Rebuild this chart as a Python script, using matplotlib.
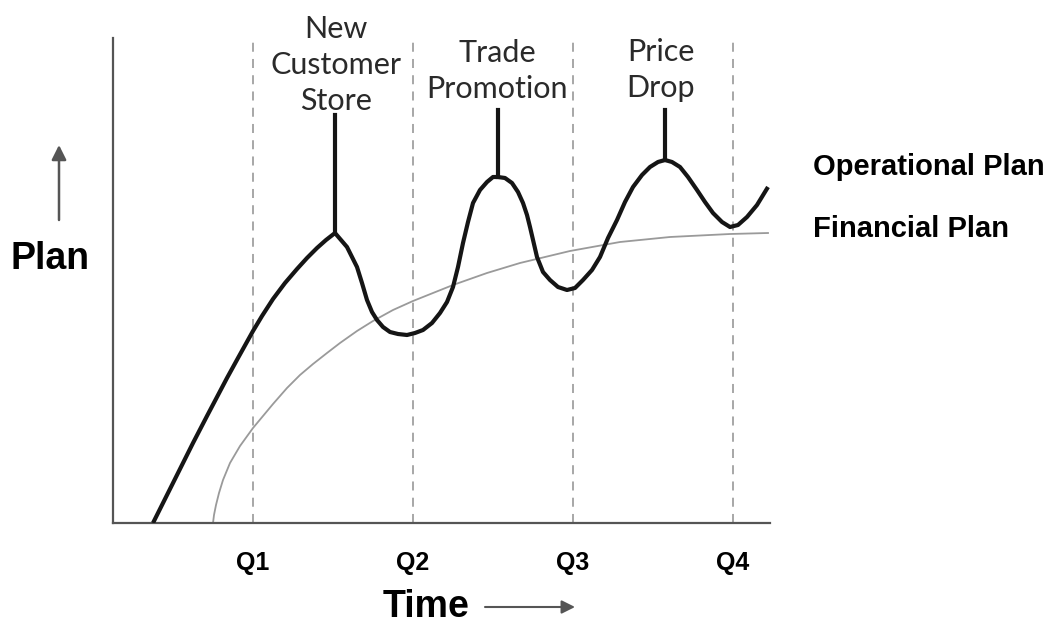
import numpy as np
import matplotlib
matplotlib.use('Agg')
import matplotlib.pyplot as plt

W, H = 1056, 623

# time axis: 160 units per quarter
quarters = [160, 320, 480, 640]
quarter_labels = ['Q1', 'Q2', 'Q3', 'Q4']

# operational plan
op_t = [60, 73, 87, 100, 114, 124, 134, 145, 160, 169, 180, 192, 204, 214,
        224, 233, 242, 254, 259, 264, 269, 274, 279, 284, 290, 297, 305,
        314, 322, 330, 339, 347, 354, 360, 365, 370, 375, 380, 387, 394,
        400, 405, 412, 419, 425, 430, 434, 437, 444, 450, 457, 465, 474,
        482, 490, 499, 507, 515, 524, 532, 540, 549, 557, 565, 572, 579,
        587, 595, 604, 612, 620, 629, 637, 645, 654, 664, 675]
op_v = [0, 26, 54, 80, 107, 126, 145, 165, 192, 207, 224, 240, 254, 265,
        275, 283, 290, 276, 266, 256, 240, 223, 211, 203, 196, 191, 189,
        188, 190, 193, 200, 210, 221, 236, 256, 280, 301, 320, 333, 341,
        346, 346, 345, 340, 331, 320, 308, 296, 266, 251, 243, 236, 233,
        235, 243, 253, 266, 285, 303, 321, 336, 348, 356, 361, 363, 361,
        356, 346, 333, 321, 310, 301, 296, 298, 306, 318, 336]

# financial plan
fin_t = [120, 121, 123, 126, 130, 137, 147, 160, 180, 194, 207, 220, 234,
         247, 264, 280, 300, 320, 360, 394, 427, 477, 527, 577, 637, 675]
fin_v = [0, 8, 18, 30, 43, 60, 77, 95, 119, 135, 148, 159, 170,
         180, 192, 202, 213, 222, 238, 250, 260, 272, 281, 286, 289, 290]

# events: time, level at peak, top of stem, label
ev_t = [242, 405, 572]
ev_v = [290, 346, 363]
ev_top = [408, 413, 413]
ev_label_x = [243, 404, 568]
ev_label_y = [413, 425, 426]
ev_labels = ['New\nCustomer\nStore', 'Trade\nPromotion', 'Price\nDrop']


def fx(px):
    return px / W


def fy(py):
    return 1 - py / H


fig = plt.figure(figsize=(W / 100, H / 100), dpi=100)
ax = fig.add_axes([fx(113), fy(523), fx(770) - fx(113), fy(38) - fy(523)])
ax.set_xlim(20, 677)
ax.set_ylim(0, 485)

for q in quarters:
    ax.axvline(q, color='#a0a0a0', lw=1.3, dashes=(5, 4), zorder=1)

ax.plot(fin_t, fin_v, color='#9a9a9a', lw=1.3, zorder=2,
        solid_joinstyle='round')
ax.plot(op_t, op_v, color='#151515', lw=3.0, zorder=3,
        solid_joinstyle='round', solid_capstyle='butt')

for t, v, top in zip(ev_t, ev_v, ev_top):
    ax.plot([t, t], [v, top], color='#151515', lw=3.0, zorder=3)
for x, y, lab in zip(ev_label_x, ev_label_y, ev_labels):
    # baseline of the last line sits at y
    ax.text(x, y, lab, ha='center', va='baseline', fontsize=22,
            family='Lato', color='#2a2a2a', linespacing=1.34, clip_on=False)

for s in ['top', 'right']:
    ax.spines[s].set_visible(False)
for s in ['left', 'bottom']:
    ax.spines[s].set_color('#555555')
    ax.spines[s].set_linewidth(1.6)

ax.set_yticks([])
ax.set_xticks(quarters)
ax.set_xticklabels(quarter_labels, fontsize=18, fontweight='bold',
                   family='Liberation Sans')
ax.tick_params(axis='x', length=0, pad=20)

bold = dict(family='Liberation Sans', fontweight='bold', color='black')
fig.text(fx(813), fy(175), 'Operational Plan', fontsize=21, va='baseline', **bold)
fig.text(fx(813), fy(237), 'Financial Plan', fontsize=21, va='baseline', **bold)
fig.text(fx(50), fy(269), 'Plan', fontsize=27, ha='center', va='baseline', **bold)
fig.text(fx(383), fy(617), 'Time', fontsize=27, ha='left', va='baseline', **bold)

ax.annotate('', xy=(fx(575), fy(607)), xytext=(fx(485), fy(607)),
            xycoords='figure fraction', textcoords='figure fraction',
            arrowprops=dict(arrowstyle='-|>', color='#555555', lw=1.5,
                            mutation_scale=20, shrinkA=0, shrinkB=0))
ax.annotate('', xy=(fx(59), fy(145)), xytext=(fx(59), fy(220)),
            xycoords='figure fraction', textcoords='figure fraction',
            arrowprops=dict(arrowstyle='-|>', color='#555555', lw=1.8,
                            mutation_scale=22, shrinkA=0, shrinkB=0))

plt.savefig('out.png', dpi=100)
